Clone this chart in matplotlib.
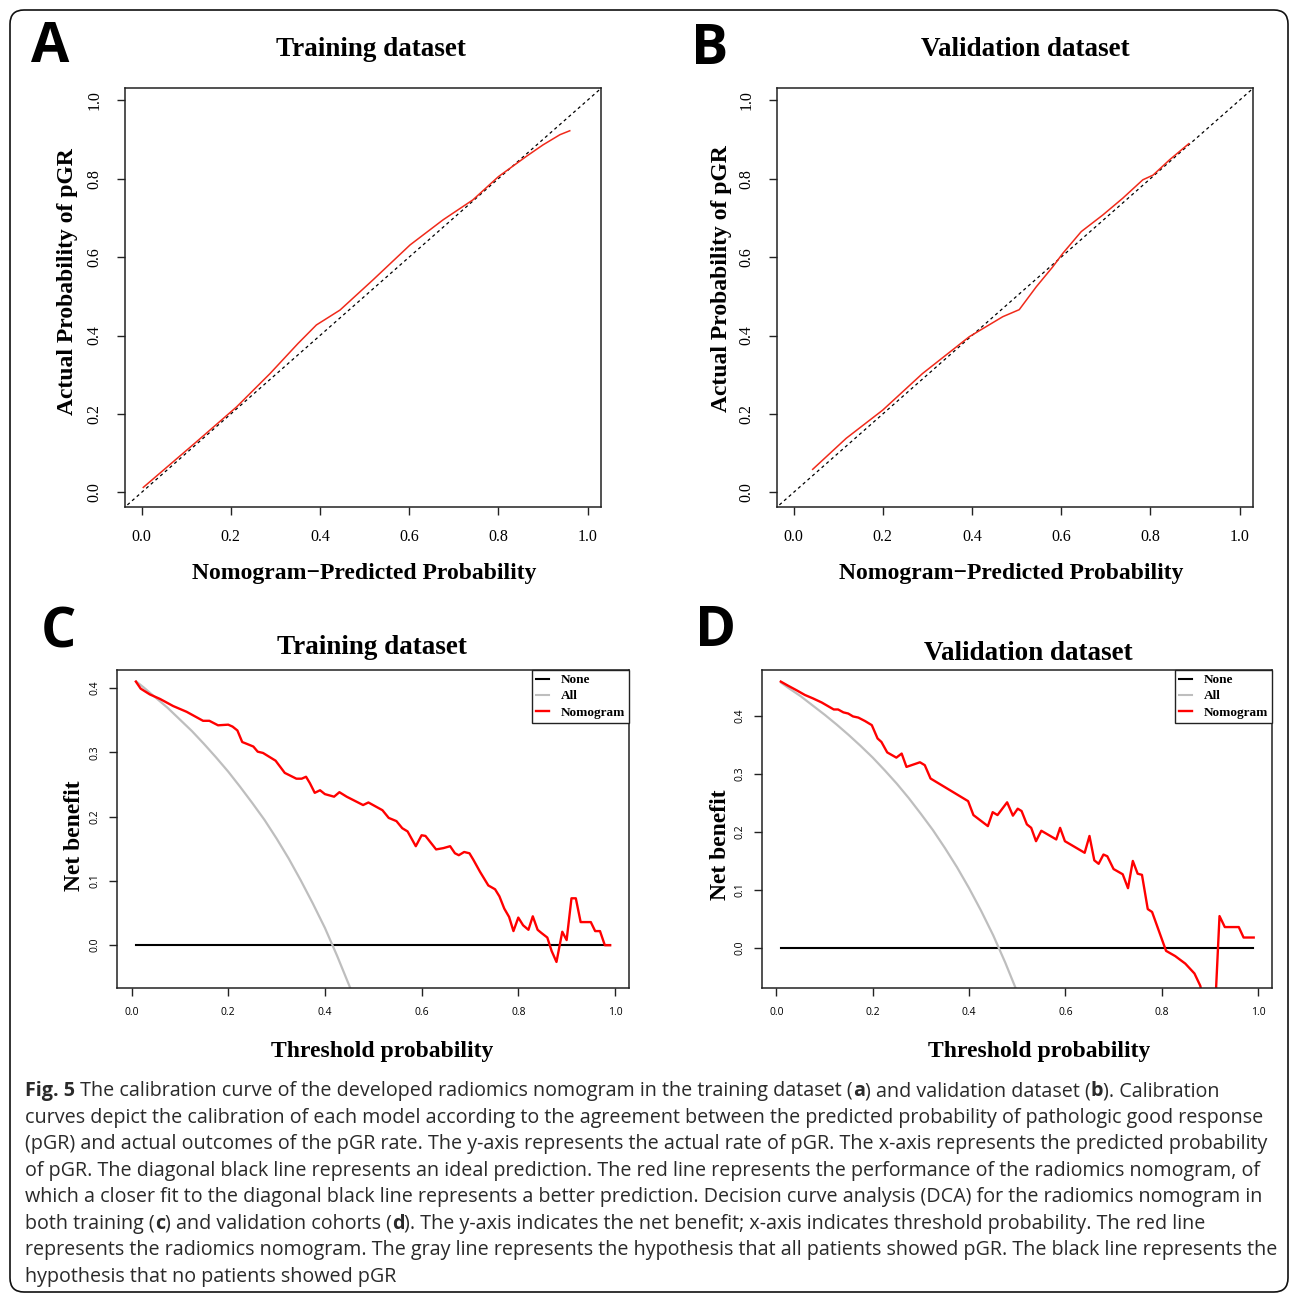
import matplotlib
matplotlib.use('Agg')
import matplotlib.pyplot as plt
from matplotlib.patches import FancyBboxPatch
from matplotlib.transforms import IdentityTransform
from matplotlib.lines import Line2D

# ---------------- data ----------------
cal_train_pred = [0.004, 0.123, 0.213, 0.288, 0.351, 0.392, 0.445, 0.519, 0.602, 0.676,
                  0.743, 0.800, 0.863, 0.900, 0.938, 0.960]
cal_train_obs = [0.013, 0.129, 0.218, 0.303, 0.380, 0.427, 0.465, 0.542, 0.631, 0.695,
                 0.746, 0.805, 0.857, 0.886, 0.912, 0.922]

cal_valid_pred = [0.043, 0.118, 0.200, 0.289, 0.394, 0.469, 0.506, 0.544, 0.581, 0.604,
                  0.645, 0.693, 0.738, 0.783, 0.806, 0.843, 0.886]
cal_valid_obs = [0.059, 0.138, 0.210, 0.303, 0.397, 0.448, 0.466, 0.524, 0.575, 0.610,
                 0.665, 0.707, 0.750, 0.797, 0.809, 0.848, 0.889]

dca_train_thr = [0.009, 0.019, 0.038, 0.059, 0.086, 0.114, 0.148, 0.161, 0.179, 0.200,
                 0.209, 0.219, 0.229, 0.239, 0.252, 0.261, 0.272, 0.298, 0.317, 0.341,
                 0.352, 0.361, 0.369, 0.379, 0.390, 0.400, 0.419, 0.430, 0.445, 0.479,
                 0.490, 0.519, 0.532, 0.548, 0.560, 0.571, 0.588, 0.600, 0.608, 0.630,
                 0.645, 0.659, 0.669, 0.677, 0.688, 0.699, 0.707, 0.721, 0.738, 0.752,
                 0.761, 0.771, 0.781, 0.790, 0.800, 0.810, 0.821, 0.830, 0.840, 0.848,
                 0.860, 0.869, 0.879, 0.891, 0.900, 0.910, 0.919, 0.929, 0.950, 0.959,
                 0.969, 0.979, 0.990]
dca_train_nomo = [0.410, 0.399, 0.390, 0.383, 0.372, 0.363, 0.349, 0.349, 0.342, 0.343,
                  0.340, 0.334, 0.316, 0.313, 0.309, 0.301, 0.299, 0.287, 0.268, 0.259,
                  0.259, 0.262, 0.252, 0.237, 0.241, 0.235, 0.231, 0.238, 0.231, 0.218,
                  0.222, 0.210, 0.198, 0.193, 0.182, 0.177, 0.154, 0.171, 0.170, 0.149,
                  0.151, 0.154, 0.143, 0.140, 0.145, 0.143, 0.133, 0.114, 0.093, 0.087,
                  0.076, 0.057, 0.044, 0.022, 0.043, 0.031, 0.024, 0.045, 0.024, 0.019,
                  0.012, -0.009, -0.026, 0.021, 0.008, 0.073, 0.073, 0.036, 0.036, 0.022,
                  0.022, 0.000, 0.000]
dca_train_all_thr = [0.010, 0.025, 0.050, 0.075, 0.100, 0.125, 0.150, 0.175, 0.200, 0.225,
                     0.250, 0.275, 0.300, 0.325, 0.350, 0.375, 0.400, 0.425, 0.450, 0.460]
dca_train_all = [0.410, 0.401, 0.385, 0.369, 0.351, 0.333, 0.313, 0.292, 0.270, 0.246,
                 0.221, 0.195, 0.166, 0.135, 0.101, 0.065, 0.027, -0.016, -0.062, -0.081]

dca_valid_thr = [0.009, 0.024, 0.042, 0.059, 0.076, 0.094, 0.119, 0.128, 0.139, 0.149,
                 0.159, 0.170, 0.184, 0.198, 0.210, 0.218, 0.230, 0.249, 0.260, 0.270,
                 0.298, 0.308, 0.320, 0.398, 0.409, 0.439, 0.449, 0.459, 0.479, 0.491,
                 0.501, 0.509, 0.520, 0.529, 0.539, 0.550, 0.581, 0.589, 0.599, 0.640,
                 0.650, 0.660, 0.669, 0.679, 0.687, 0.700, 0.719, 0.730, 0.740, 0.750,
                 0.759, 0.771, 0.780, 0.809, 0.828, 0.849, 0.868, 0.880, 0.890, 0.900,
                 0.910, 0.920, 0.931, 0.960, 0.970, 0.991]
dca_valid_nomo = [0.459, 0.452, 0.444, 0.436, 0.430, 0.423, 0.411, 0.411, 0.406, 0.404,
                  0.399, 0.397, 0.391, 0.384, 0.361, 0.355, 0.337, 0.328, 0.335, 0.312,
                  0.320, 0.315, 0.292, 0.253, 0.229, 0.210, 0.234, 0.229, 0.251, 0.228,
                  0.240, 0.236, 0.213, 0.207, 0.184, 0.202, 0.187, 0.207, 0.184, 0.164,
                  0.193, 0.151, 0.145, 0.161, 0.158, 0.136, 0.127, 0.103, 0.150, 0.128,
                  0.126, 0.067, 0.062, -0.005, -0.014, -0.027, -0.044, -0.065, -0.100, -0.140,
                  -0.120, 0.055, 0.036, 0.036, 0.018, 0.018]
dca_valid_all_thr = [0.010, 0.025, 0.050, 0.075, 0.100, 0.125, 0.150, 0.175, 0.200, 0.225,
                     0.250, 0.275, 0.300, 0.325, 0.350, 0.375, 0.400, 0.425, 0.450, 0.475,
                     0.500]
dca_valid_all = [0.457, 0.448, 0.434, 0.418, 0.402, 0.385, 0.367, 0.348, 0.328, 0.306,
                 0.283, 0.258, 0.231, 0.203, 0.172, 0.139, 0.103, 0.064, 0.022, -0.025,
                 -0.076]

none_thr = [0.01, 0.99]
none_nb = [0.0, 0.0]

cal_ticks = [0.0, 0.2, 0.4, 0.6, 0.8, 1.0]
dca_xticks = [0.0, 0.2, 0.4, 0.6, 0.8, 1.0]
dca_yticks = [0.0, 0.1, 0.2, 0.3, 0.4]
legend_labels = ['None', 'All', 'Nomogram']

caption_lines = [
    "**Fig. 5** The calibration curve of the developed radiomics nomogram in the training dataset (**a**) and validation dataset (**b**). Calibration",
    "curves depict the calibration of each model according to the agreement between the predicted probability of pathologic good response",
    "(pGR) and actual outcomes of the pGR rate. The y-axis represents the actual rate of pGR. The x-axis represents the predicted probability",
    "of pGR. The diagonal black line represents an ideal prediction. The red line represents the performance of the radiomics nomogram, of",
    "which a closer fit to the diagonal black line represents a better prediction. Decision curve analysis (DCA) for the radiomics nomogram in",
    "both training (**c**) and validation cohorts (**d**). The y-axis indicates the net benefit; x-axis indicates threshold probability. The red line",
    "represents the radiomics nomogram. The gray line represents the hypothesis that all patients showed pGR. The black line represents the",
    "hypothesis that no patients showed pGR",
]

# ---------------- figure ----------------
W, H = 1290, 1295
fig = plt.figure(figsize=(W / 100, H / 100), dpi=100)
SERIF = ['Liberation Serif', 'DejaVu Serif']
SANS = ['Open Sans', 'DejaVu Sans']
EDGE = '#222222'


def add_axes(l, t, r, b):
    return fig.add_axes([l / W, 1 - b / H, (r - l) / W, (b - t) / H])


def ftext(x, y, s, **kw):
    return fig.text(x / W, 1 - y / H, s, **kw)


def style_axes(ax, tick_font, tick_size, ticklen, pad_x, pad_y):
    for sp in ax.spines.values():
        sp.set_color(EDGE)
        sp.set_linewidth(1.1)
    ax.tick_params(direction='out', length=ticklen, width=1.0, color=EDGE)
    ax.tick_params(axis='x', pad=pad_x)
    ax.tick_params(axis='y', pad=pad_y, labelrotation=90)
    for lab in ax.get_xticklabels() + ax.get_yticklabels():
        lab.set_family(tick_font)
        lab.set_fontsize(tick_size)
    for lab in ax.get_yticklabels():
        lab.set_va('center')


# calibration panels
def calib(ax, xs, ys):
    ax.plot([-0.2, 1.2], [-0.2, 1.2], color='black', lw=0.9, ls=(0, (2.5, 2.5)))
    ax.plot(xs, ys, color='#f02a1a', lw=1.1)
    ax.set_xlim(-0.037, 1.030)
    ax.set_ylim(-0.037, 1.031)
    ax.set_xticks(cal_ticks)
    ax.set_yticks(cal_ticks)
    ax.set_xticklabels([f'{v:.1f}' for v in cal_ticks])
    ax.set_yticklabels([f'{v:.1f}' for v in cal_ticks])
    style_axes(ax, SERIF, 11.5, 6, 10, 10)


axA = add_axes(125, 88, 601, 507)
calib(axA, cal_train_pred, cal_train_obs)
axB = add_axes(777, 88, 1253, 507)
calib(axB, cal_valid_pred, cal_valid_obs)


def dca(ax, thr, nomo, athr, allv, ylim):
    ax.plot(none_thr, none_nb, color='black', lw=1.5)
    ax.plot(athr, allv, color='#bebebe', lw=1.6)
    ax.plot(thr, nomo, color='#ff0000', lw=1.7)
    ax.set_xlim(-0.030, 1.029)
    ax.set_ylim(*ylim)
    ax.set_xticks(dca_xticks)
    ax.set_yticks(dca_yticks)
    ax.set_xticklabels([f'{v:.1f}' for v in dca_xticks])
    ax.set_yticklabels([f'{v:.1f}' for v in dca_yticks])
    style_axes(ax, SANS, 7.5, 6, 8, 6)
    handles = [Line2D([], [], color='black', lw=1.5),
               Line2D([], [], color='#bebebe', lw=1.5),
               Line2D([], [], color='#ff0000', lw=1.7)]
    leg = ax.legend(handles, legend_labels, loc='upper right', bbox_to_anchor=(1.0, 1.0),
                    borderaxespad=0.0, fancybox=False, framealpha=1, edgecolor=EDGE,
                    prop={'family': SERIF, 'weight': 'bold', 'size': 9.5},
                    handlelength=1.0, handletextpad=0.9, labelspacing=0.3,
                    borderpad=0.3)
    leg.get_frame().set_linewidth(1.0)


axC = add_axes(117, 670, 629, 988)
dca(axC, dca_train_thr, dca_train_nomo, dca_train_all_thr, dca_train_all, (-0.0665, 0.428))
axD = add_axes(762, 670, 1272, 988)
dca(axD, dca_valid_thr, dca_valid_nomo, dca_valid_all_thr, dca_valid_all, (-0.069, 0.479))

# titles and labels
title_kw = dict(family=SERIF, weight='bold', size=19.5, ha='center', va='center')
ftext(371, 49, 'Training dataset', **title_kw)
ftext(1025, 49, 'Validation dataset', **title_kw)
ftext(372, 647, 'Training dataset', **title_kw)
ftext(1028, 653, 'Validation dataset', **title_kw)

lab_kw = dict(family=SERIF, weight='bold', size=17, ha='center', va='center')
ftext(364, 573, 'Nomogram\u2212Predicted Probability', **lab_kw)
ftext(1011, 573, 'Nomogram\u2212Predicted Probability', **lab_kw)
ftext(68, 282, 'Actual Probability of pGR', rotation=90, **lab_kw)
ftext(722, 279, 'Actual Probability of pGR', rotation=90, **lab_kw)
ftext(382, 1052, 'Threshold probability', **lab_kw)
ftext(1039, 1052, 'Threshold probability', **lab_kw)
ftext(75, 836, 'Net benefit', rotation=90, **lab_kw)
ftext(720, 845, 'Net benefit', rotation=90, **lab_kw)

letter_kw = dict(family=SANS, weight='bold', size=40, ha='center', va='center')
ftext(50, 48, 'A', **letter_kw)
ftext(710, 49, 'B', **letter_kw)
ftext(58, 633, 'C', **letter_kw)
ftext(716, 632, 'D', **letter_kw)

# frame
frame = FancyBboxPatch((10, 3), 1278, 1282, boxstyle='round,pad=0,rounding_size=14',
                       transform=IdentityTransform(), fill=False, edgecolor='#111111',
                       linewidth=1.2)
fig.patches.append(frame)

# caption
renderer = fig.canvas.get_renderer()
probe = fig.text(0, 0, caption_lines[1], fontsize=10, family=SANS)
w10 = probe.get_window_extent(renderer).width
probe.remove()
cap_fs = 10 * 1240 / w10

line_centers = [1090, 1117, 1143, 1170, 1196, 1223, 1249, 1276]
for line, yc in zip(caption_lines, line_centers):
    x = 25.0
    for i, seg in enumerate(line.split('**')):
        if not seg:
            continue
        t = fig.text(x / W, 1 - (yc + 6) / H, seg, fontsize=cap_fs, family=SANS,
                     weight='bold' if i % 2 else 'normal', va='baseline', ha='left',
                     color='#2a2a2a')
        bb = t.get_window_extent(renderer)
        x = bb.x1

fig.savefig('out.png', dpi=100)
